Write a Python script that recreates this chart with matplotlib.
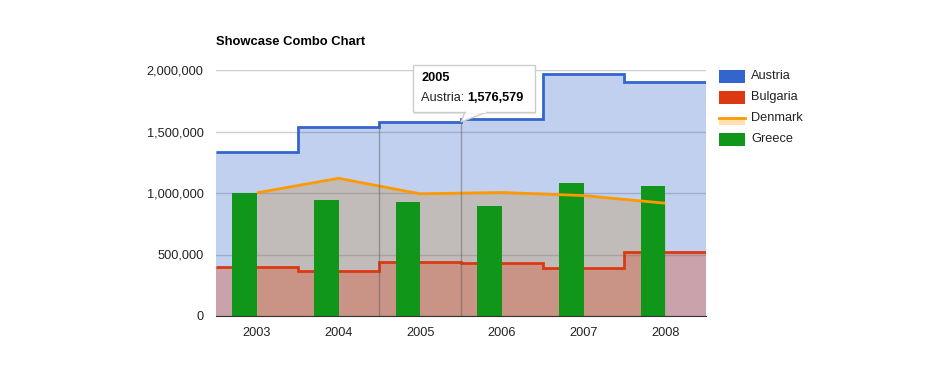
import matplotlib.pyplot as plt
import numpy as np
from matplotlib.patches import Rectangle, Polygon
from matplotlib.lines import Line2D

plt.rcParams['font.family'] = ['Liberation Sans', 'DejaVu Sans']

years = ['2003', '2004', '2005', '2006', '2007', '2008']
austria = [1336060, 1538156, 1576579, 1600652, 1968113, 1901067]
bulgaria = [400361, 366849, 440514, 434552, 393032, 517206]
denmark = [1001582, 1119450, 993360, 1004163, 979198, 916965]
greece = [997974, 941795, 930593, 897127, 1080887, 1056036]
yticks = [0, 500000, 1000000, 1500000, 2000000]

c_aus, c_bul, c_den, c_gre = '#3366cc', '#dc3912', '#ff9900', '#109618'
W, H = 939, 366

fig = plt.figure(figsize=(W / 100, H / 100), dpi=100)
ax = fig.add_axes([216 / W, 1 - 316 / H, 490 / W, 246 / H])

x = np.arange(len(years))
edges = np.arange(-0.5, len(years), 1.0)

# denmark as area line (drawn beneath the stepped areas)
ax.fill_between(x, 0, denmark, color=c_den, alpha=0.3, lw=0, zorder=1)
ax.stairs(austria, edges, baseline=0, fill=True, color=c_aus, alpha=0.3, lw=0, zorder=2)
ax.stairs(austria, edges, baseline=None, color=c_aus, lw=2, zorder=2.5)
ax.stairs(bulgaria, edges, baseline=0, fill=True, color=c_bul, alpha=0.3, lw=0, zorder=3)
ax.stairs(bulgaria, edges, baseline=None, color=c_bul, lw=2, zorder=3.5)
ax.bar(x, greece, width=-0.3, align='edge', color=c_gre, zorder=4)
ax.plot(x, denmark, color=c_den, lw=2, zorder=5, solid_capstyle='butt')

# hover highlight on the 2005 step
hi = years.index('2005')
ax.vlines([edges[hi], edges[hi + 1]], 0, austria[hi], color='#555555', lw=1, alpha=0.45, zorder=6)

ax.set_xlim(-0.5, len(years) - 0.5)
ax.set_ylim(0, 2000000)
ax.set_yticks(yticks)
ax.set_yticklabels(['{:,}'.format(v) for v in yticks])
ax.set_xticks(x)
ax.set_xticklabels(years)
ax.tick_params(length=0, labelsize=9.2, colors='#222222')
ax.tick_params(axis='y', pad=9)
ax.tick_params(axis='x', pad=8)
ax.grid(axis='y', color='#cccccc', lw=1, zorder=0)
ax.set_axisbelow(True)
for s in ['top', 'right', 'left']:
    ax.spines[s].set_visible(False)
ax.spines['bottom'].set_color('#333333')
ax.spines['bottom'].set_zorder(7)

fig.text(216 / W, 1 - 42 / H, 'Showcase Combo Chart', fontsize=9.4, fontweight='bold',
         color='#000000', va='center', ha='left')

# overlay axes in pixel coordinates for legend and tooltip
ov = fig.add_axes([0, 0, 1, 1])
ov.set_xlim(0, W)
ov.set_ylim(H, 0)
ov.axis('off')
ov.patch.set_alpha(0)

names = ['Austria', 'Bulgaria', 'Denmark', 'Greece']
cols = [c_aus, c_bul, c_den, c_gre]
for i, (n, c) in enumerate(zip(names, cols)):
    yc = 76 + i * 21
    if n == 'Denmark':
        ov.add_patch(Rectangle((719, yc + 1), 26, 6, color=c, alpha=0.3, lw=0))
        ov.add_line(Line2D([719, 745], [yc, yc], color=c, lw=2))
    else:
        ov.add_patch(Rectangle((719, yc - 6.5), 26, 13, color=c, lw=0))
    ov.text(751, yc, n, fontsize=9.2, color='#222222', va='center', ha='left')

# tooltip
ov.add_patch(Rectangle((414, 66), 122, 48, facecolor='#bbbbbb', alpha=0.35, lw=0, zorder=8))
ov.add_patch(Polygon([(461, 122), (465, 112), (487, 112)], closed=True,
                     facecolor='white', edgecolor='#cccccc', lw=1, zorder=9))
ov.add_patch(Rectangle((413, 65), 122, 47, facecolor='white', edgecolor='#cccccc', lw=1, zorder=10))
ov.add_patch(Rectangle((466, 110), 20, 3, facecolor='white', lw=0, zorder=11))
ov.text(421, 78, '2005', fontsize=9.2, fontweight='bold', color='#000000', va='center', ha='left', zorder=12)
t = ov.text(421, 98, 'Austria: ', fontsize=9.2, color='#222222', va='center', ha='left', zorder=12)
ov.annotate('{:,}'.format(austria[hi]), xycoords=t, xy=(1, 0.5), va='center', ha='left',
            fontsize=9.2, fontweight='bold', color='#000000', zorder=12)

fig.savefig('out.png', dpi=100)
